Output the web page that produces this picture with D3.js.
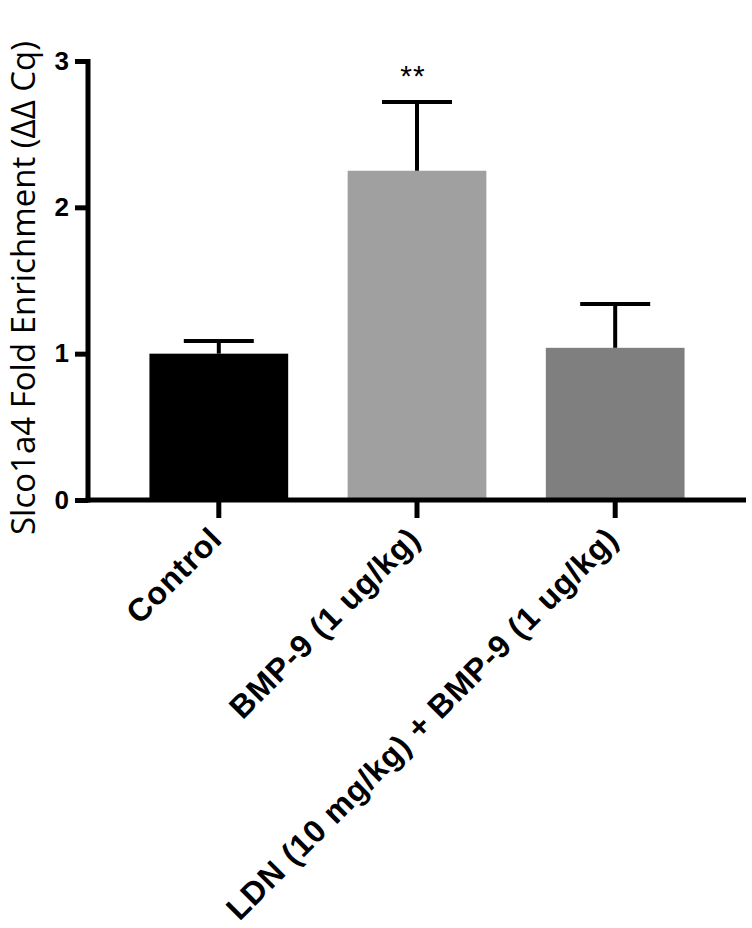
<!DOCTYPE html>
<html>
<head>
<meta charset="utf-8">
<script src="https://cdn.jsdelivr.net/npm/d3@7"></script>
<style>
  html, body { margin: 0; padding: 0; background: #fff; }
  svg { display: block; }
</style>
</head>
<body>
<svg id="chart" width="752" height="928"></svg>
<script>
const categories = ["Control", "BMP-9 (1 ug/kg)", "LDN (10 mg/kg) + BMP-9 (1 ug/kg)"];
const means = [1.0, 2.25, 1.04];
const errors = [0.087, 0.47, 0.30];
const barColors = ["#000000", "#a0a0a0", "#7f7f7f"];
const significance = ["", "**", ""];
const yTicks = [0, 1, 2, 3];
const yTitle = "Slco1a4 Fold Enrichment (ΔΔ Cq)";

(function () {
const svg = d3.select("#chart");
const mLeft = 88, mRight = 746, mTop = 61, mBottom = 500;

const x = d3.scaleBand().domain(categories).range([mLeft, mRight])
  .paddingInner(0.3).paddingOuter(0.31);
const y = d3.scaleLinear().domain([0, 3]).range([mBottom, mTop]);

// bars
svg.selectAll("rect.bar").data(categories).enter().append("rect")
  .attr("class", "bar")
  .attr("x", d => x(d))
  .attr("width", x.bandwidth())
  .attr("y", (d, i) => y(means[i]))
  .attr("height", (d, i) => y(0) - y(means[i]))
  .attr("fill", (d, i) => barColors[i]);

// error bars (upper only)
const capW = 70;
const eg = svg.append("g").attr("stroke", "#000").attr("stroke-width", 4);
categories.forEach((c, i) => {
  const cx = x(c) + x.bandwidth() / 2;
  eg.append("line").attr("x1", cx).attr("x2", cx)
    .attr("y1", y(means[i])).attr("y2", y(means[i] + errors[i]));
  eg.append("line").attr("x1", cx - capW / 2).attr("x2", cx + capW / 2)
    .attr("y1", y(means[i] + errors[i])).attr("y2", y(means[i] + errors[i]));
});

// significance
svg.selectAll("text.sig").data(categories).enter().append("text")
  .attr("class", "sig")
  .attr("x", d => x(d) + x.bandwidth() / 2 - 4)
  .attr("y", (d, i) => y(means[i] + errors[i]) - 16)
  .attr("text-anchor", "middle")
  .attr("font-family", "Liberation Sans, Arial, sans-serif")
  .attr("font-size", 30)
  .attr("font-weight", "normal")
  .attr("letter-spacing", 1)
  .text((d, i) => significance[i]);

// y axis
const yAxis = d3.axisLeft(y).tickValues(yTicks).tickFormat(d3.format("d"))
  .tickSize(13).tickSizeOuter(0).tickPadding(6);
const yg = svg.append("g").attr("transform", `translate(${mLeft},0)`).call(yAxis);
yg.select(".domain").attr("stroke", "#000").attr("stroke-width", 5)
  .attr("d", `M0,${mTop - 2}V${mBottom + 2.5}`);
yg.selectAll(".tick line").attr("stroke", "#000").attr("stroke-width", 5);
yg.selectAll(".tick text").attr("font-family", "Liberation Sans, Arial, sans-serif")
  .attr("font-size", 26).attr("font-weight", "bold").attr("fill", "#000");

// x axis
const xAxis = d3.axisBottom(x).tickSize(18).tickSizeOuter(0).tickPadding(4);
const xg = svg.append("g").attr("transform", `translate(0,${mBottom})`).call(xAxis);
xg.select(".domain").attr("stroke", "#000").attr("stroke-width", 5)
  .attr("d", `M${mLeft - 2.5},0H${mRight}`);
xg.selectAll(".tick line").attr("stroke", "#000").attr("stroke-width", 5);
xg.selectAll(".tick text")
  .attr("font-family", "Liberation Sans, Arial, sans-serif")
  .attr("font-size", 32).attr("font-weight", "bold").attr("fill", "#000")
  .attr("letter-spacing", 0.8)
  .attr("text-anchor", "end")
  .attr("dy", null)
  .attr("y", 0)
  .attr("transform", "translate(5,41) rotate(-45)");

// y title
svg.append("text")
  .attr("transform", `translate(35,288) rotate(-90)`)
  .attr("text-anchor", "middle")
  .attr("font-family", "Open Sans, sans-serif")
  .attr("font-size", 33)
  .attr("fill", "#000")
  .text(yTitle);
})();
</script>
</body>
</html>
